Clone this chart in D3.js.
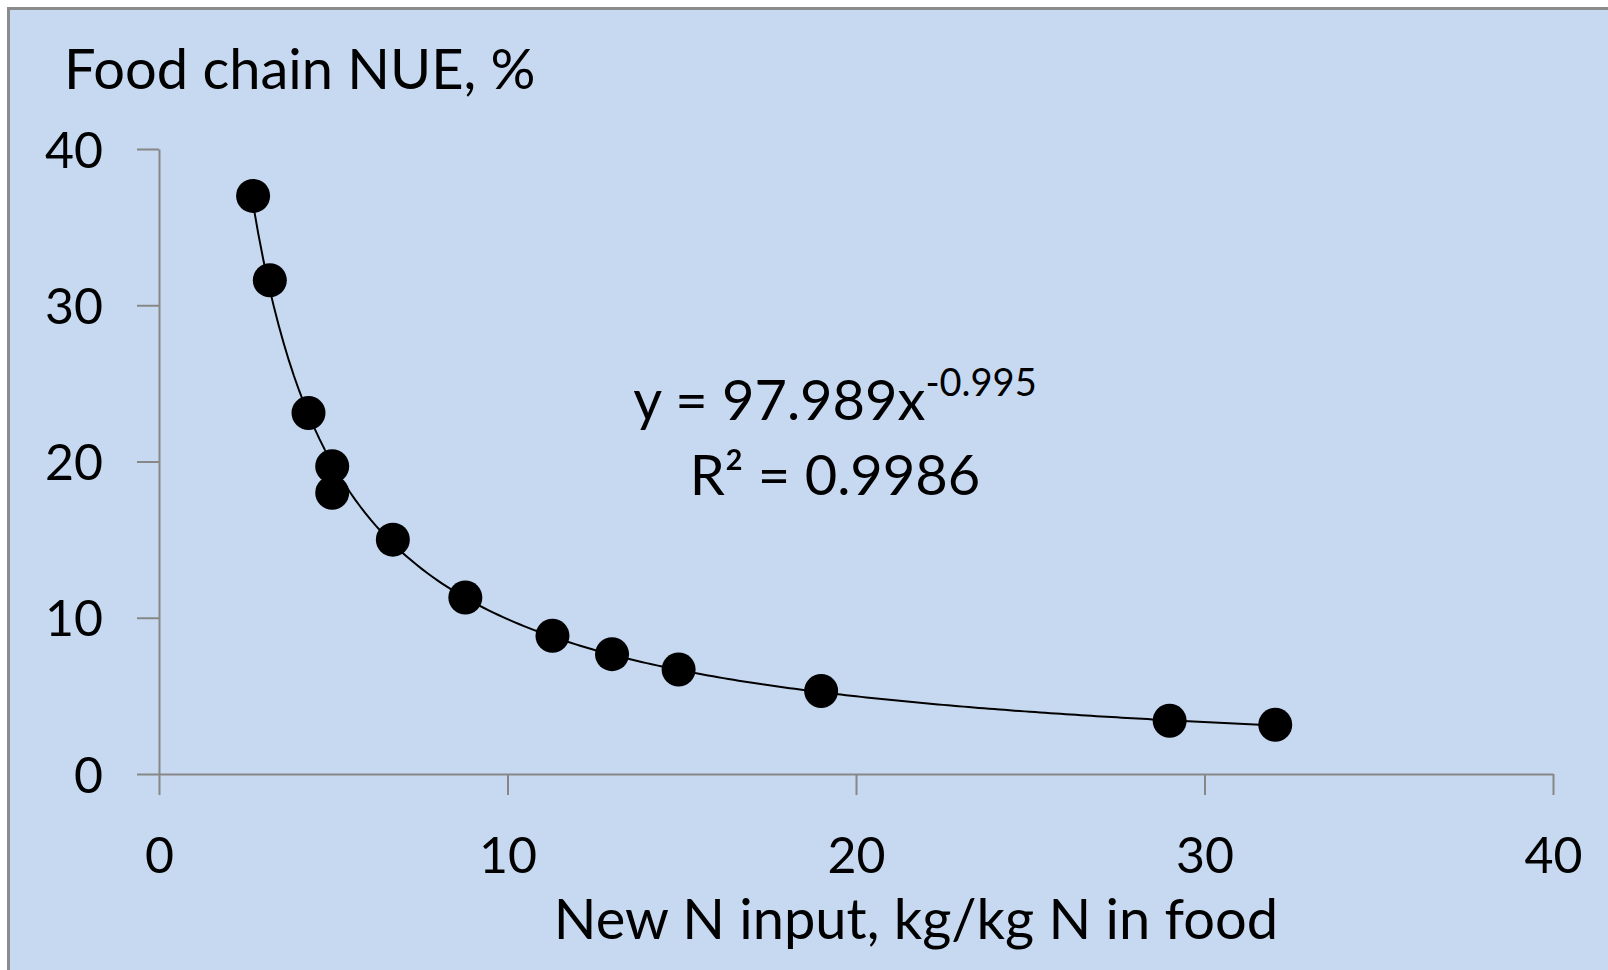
<!DOCTYPE html>
<html>
<head>
<meta charset="utf-8">
<script src="https://cdn.jsdelivr.net/npm/d3@7"></script>
<style>
  body { margin: 0; background: #fff; }
  text { font-family: Lato, "Open Sans", sans-serif; fill: #000; }
</style>
</head>
<body>
<div id="chart"></div>
<script>
// data
const newNInput = [2.7, 3.18, 4.29, 4.97, 4.97, 6.71, 8.79, 11.29, 13.0, 14.91, 19.0, 29.0, 32.03];
const foodChainNUE = [37.0, 31.6, 23.1, 19.7, 18.0, 15.0, 11.3, 8.85, 7.67, 6.69, 5.31, 3.41, 3.15];
const xTicks = [0, 10, 20, 30, 40];
const yTicks = [0, 10, 20, 30, 40];
// power trendline as printed on the chart
const fitA = 97.989;
const fitB = -0.995;
const fitR2 = '0.9986';

const W = 1608, H = 970;
const margin = { left: 159, right: 55, top: 149, bottom: 196 };

const svg = d3.select('#chart')
  .append('svg')
  .attr('width', W)
  .attr('height', H);

// panel background + frame
svg.append('rect')
  .attr('x', 8.5).attr('y', 8.5)
  .attr('width', W + 20).attr('height', H + 20)
  .attr('fill', '#c6d9f0')
  .attr('stroke', '#8b8b8b')
  .attr('stroke-width', 3);

const x = d3.scaleLinear().domain([0, 40]).range([margin.left, W - margin.right]);
const y = d3.scaleLinear().domain([0, 40]).range([H - margin.bottom, margin.top]);

const xAxis = svg.append('g')
  .attr('transform', `translate(0,${y(0)})`)
  .call(d3.axisBottom(x).tickValues(xTicks).tickSize(21).tickSizeOuter(0).tickPadding(42));

const yAxis = svg.append('g')
  .attr('transform', `translate(${x(0)},0)`)
  .call(d3.axisLeft(y).tickValues(yTicks).tickSize(22).tickSizeOuter(0).tickPadding(34));

[xAxis, yAxis].forEach(g => {
  g.select('.domain').attr('stroke', '#878787').attr('stroke-width', 2);
  g.selectAll('.tick line').attr('stroke', '#878787').attr('stroke-width', 2);
  g.selectAll('.tick text')
    .attr('font-size', 50)
    .attr('font-family', 'Lato, "Open Sans", sans-serif')
    .attr('fill', '#000');
});
yAxis.selectAll('.tick text').attr('dy', '0.36em');

// trendline over the range of the data
const xs = d3.range(0, 201).map(i => d3.min(newNInput) + (d3.max(newNInput) - d3.min(newNInput)) * i / 200);
svg.append('path')
  .datum(xs)
  .attr('fill', 'none')
  .attr('stroke', '#000')
  .attr('stroke-width', 2)
  .attr('d', d3.line().x(d => x(d)).y(d => y(fitA * Math.pow(d, fitB))));

// points
svg.selectAll('.pt')
  .data(newNInput.map((v, i) => ({ x: v, y: foodChainNUE[i] })))
  .enter()
  .append('circle')
  .attr('class', 'pt')
  .attr('cx', d => x(d.x))
  .attr('cy', d => y(d.y))
  .attr('r', 17)
  .attr('fill', '#000');

// axis titles
svg.append('text')
  .attr('x', 64).attr('y', 89)
  .attr('font-size', 56)
  .text('Food chain NUE, %');

svg.append('text')
  .attr('x', 916).attr('y', 939)
  .attr('text-anchor', 'middle')
  .attr('font-size', 56)
  .text('New N input, kg/kg N in food');

// equation
const eq = svg.append('text')
  .attr('x', 835).attr('y', 420)
  .attr('text-anchor', 'middle')
  .attr('font-size', 56);
eq.append('tspan').text('y = ' + fitA + 'x');
eq.append('tspan').attr('font-size', 38).attr('dy', -24).text(String(fitB));

svg.append('text')
  .attr('x', 835).attr('y', 495)
  .attr('text-anchor', 'middle')
  .attr('font-size', 56)
  .text('R² = ' + fitR2);
</script>
</body>
</html>
